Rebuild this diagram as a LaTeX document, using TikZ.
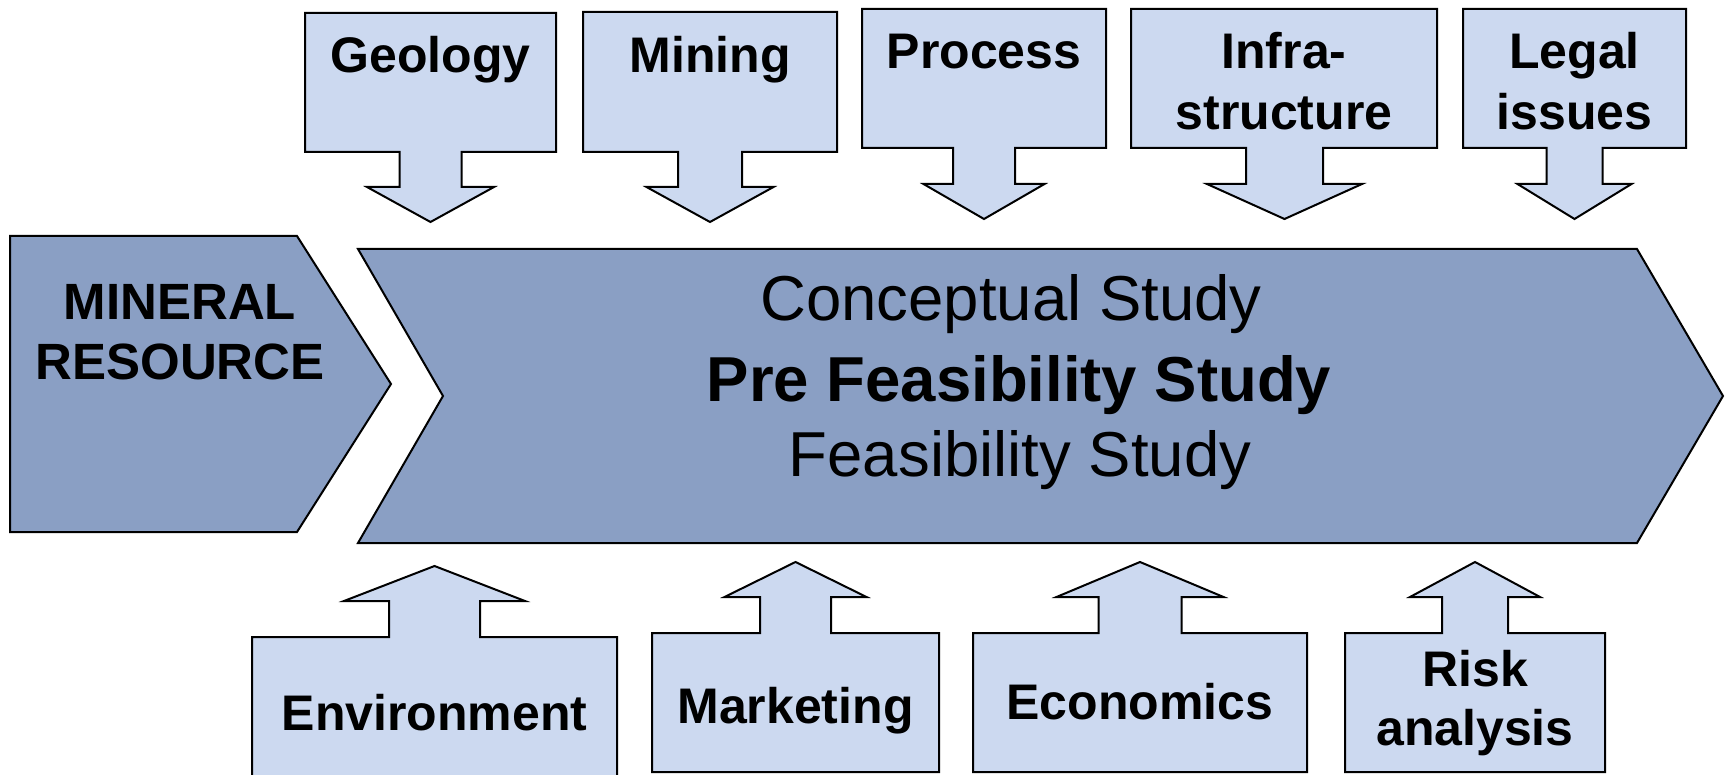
\documentclass[tikz,border=0pt]{standalone}
\usepackage{fontspec}
\setmainfont{Liberation Sans}
\definecolor{darkfill}{HTML}{8A9FC4}
\definecolor{lightfill}{HTML}{CCD9F0}
\newcommand{\dncall}[9]{\draw[callout] (#1,#3) -- (#2,#3) -- (#2,#4) -- ({#5+#6},#4) -- ({#5+#6},#8) -- ({#5+#7},#8) -- (#5,#9) -- ({#5-#7},#8) -- ({#5-#6},#8) -- ({#5-#6},#4) -- (#1,#4) -- cycle;}
\newcommand{\upcall}[9]{\draw[callout] (#1,#4) -- (#1,#3) -- ({#5-#6},#3) -- ({#5-#6},#8) -- ({#5-#7},#8) -- (#5,#9) -- ({#5+#7},#8) -- ({#5+#6},#8) -- ({#5+#6},#3) -- (#2,#3) -- (#2,#4) -- cycle;}
\begin{document}
\begin{tikzpicture}[x=0.5pt,y=-0.5pt,
  callout/.style={draw=black,fill=lightfill,line width=1pt,line join=miter},
  chev/.style={draw=black,fill=darkfill,line width=1pt,line join=miter},
  boxtext/.style={anchor=base,inner sep=0pt,font=\fontsize{25}{30}\selectfont\bfseries},
  maintext/.style={anchor=base,inner sep=0pt,font=\fontsize{31.75}{38}\selectfont}]
\clip (0,0) rectangle (1726,775);
\fill[white] (0,0) rectangle (1726,775);
% chevrons
\draw[chev] (10,236) -- (297,236) -- (391,384) -- (297,532) -- (10,532) -- cycle;
\draw[chev] (358,249) -- (1637,249) -- (1723,396) -- (1637,543) -- (358,543) -- (443,396) -- cycle;
% top callouts
\dncall{305}{556}{13}{152}{430.5}{31}{63.5}{187}{222}
\dncall{583}{837}{12}{152}{710}{32}{63.5}{187}{222}
\dncall{862}{1106}{9}{148}{984}{31}{60.5}{184}{219}
\dncall{1131}{1437}{9}{148}{1284.5}{38.5}{77.5}{184}{219}
\dncall{1463}{1686}{9}{148}{1574.5}{28}{57}{184}{219}
% bottom callouts
\upcall{252}{617}{637}{800}{434.5}{45.5}{90.5}{601}{566}
\upcall{652}{939}{633}{772}{795.5}{35.5}{71}{597}{562}
\upcall{973}{1307}{633}{772}{1140}{41.5}{83.5}{597}{562}
\upcall{1345}{1605}{633}{772}{1475}{33}{65}{597}{562}
% texts
\node[boxtext] (geo) at (430.5,73) {Geology};
\node[boxtext] (min) at (710,73) {Mining};
\node[boxtext] (pro) at (984,69) {Process};
\node[boxtext] (inf1) at (1284,69) {Infra-};
\node[boxtext] (inf2) at (1284,129.5) {structure};
\node[boxtext] (leg1) at (1574.5,69) {Legal};
\node[boxtext] (leg2) at (1574.5,129.5) {issues};
\node[boxtext] (env) at (434.5,730) {Environment};
\node[boxtext] (mkt) at (795.5,723) {Marketing};
\node[boxtext] (eco) at (1140,719) {Economics};
\node[boxtext] (risk1) at (1475,686) {Risk};
\node[boxtext] (risk2) at (1475,745) {analysis};
\node[boxtext,font=\fontsize{25.5}{30}\selectfont\bfseries] (mr1) at (180,320) {MINERAL};
\node[boxtext,font=\fontsize{25.5}{30}\selectfont\bfseries] (mr2) at (180,380) {RESOURCE};
\node[maintext] (cs) at (1011,321) {Conceptual Study};
\node[maintext,font=\fontsize{31.75}{38}\selectfont\bfseries] (pfs) at (1019,401) {Pre Feasibility Study};
\node[maintext] (fs) at (1020,476) {Feasibility Study};
\end{tikzpicture}
\end{document}
